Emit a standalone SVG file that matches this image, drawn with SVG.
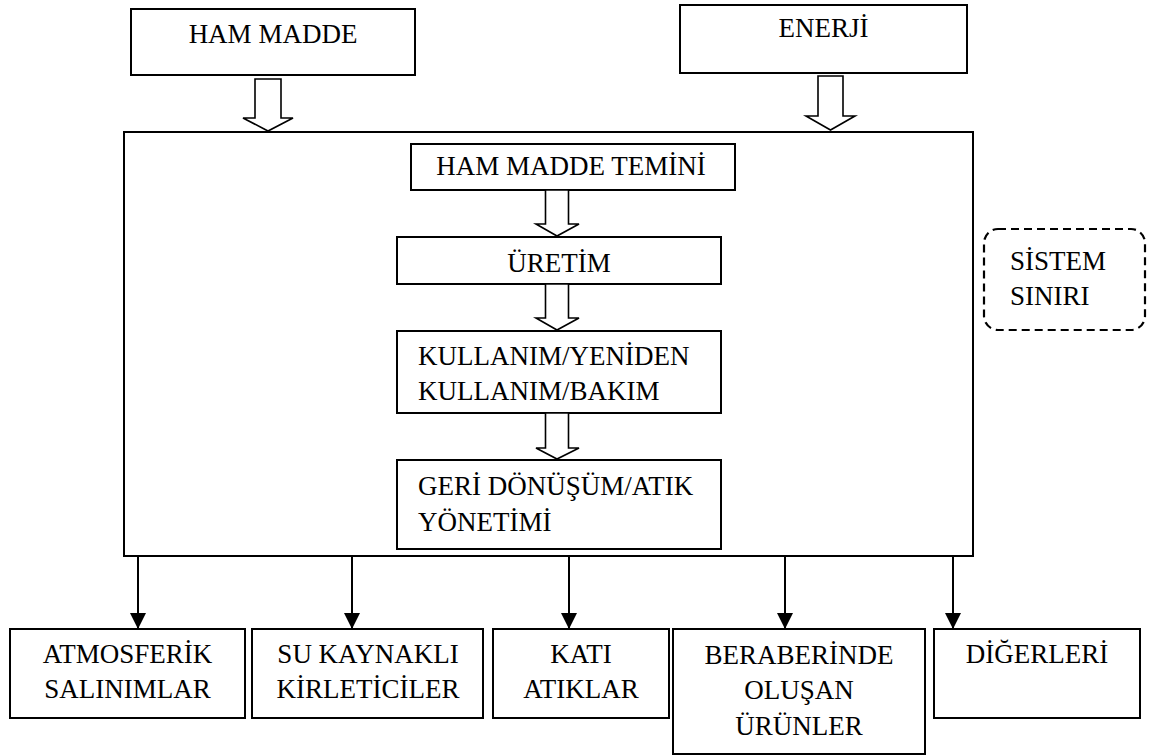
<svg xmlns="http://www.w3.org/2000/svg" width="1150" height="756" viewBox="0 0 1150 756">
<style>
.box{fill:#fff;stroke:#000;stroke-width:2}
.main{fill:#fff;stroke:#000;stroke-width:2}
.hollow{fill:#fff;stroke:#000;stroke-width:1.6;stroke-linejoin:miter}
.dash{fill:none;stroke:#000;stroke-width:2.2;stroke-dasharray:8 5}
text{font-family:"Liberation Serif","Times New Roman","DejaVu Serif",serif;font-size:27px;fill:#000}
.c{text-anchor:middle}
.ln{stroke:#000;stroke-width:2;fill:none}
</style>
<defs>
<marker id="ah" markerWidth="16" markerHeight="16" viewBox="0 0 16 16" refX="16" refY="8" orient="auto" markerUnits="userSpaceOnUse">
<path d="M0,0 L16,8 L0,16 Z" fill="#000"/>
</marker>
</defs>
<rect width="1150" height="756" fill="#fff"/>

<g id="main-system">
<rect class="main" x="124" y="132" width="849" height="424"/>
</g>

<g id="ham-madde">
<rect class="box" x="131" y="9" width="284" height="66"/>
<text class="c" x="273" y="43" font-family="Liberation Serif, serif">HAM MADDE</text>
</g>

<g id="enerji">
<rect class="box" x="680" y="5" width="287" height="68"/>
<text class="c" x="823.5" y="37" font-family="Liberation Serif, serif">ENERJİ</text>
</g>

<g id="ham-madde-temini">
<rect class="box" x="411" y="144" width="324" height="46"/>
<text class="c" x="571" y="175" font-family="Liberation Serif, serif">HAM MADDE TEMİNİ</text>
</g>

<g id="uretim">
<rect class="box" x="397" y="237" width="324" height="47"/>
<text class="c" x="559" y="272" font-family="Liberation Serif, serif">ÜRETİM</text>
</g>

<g id="kullanim">
<rect class="box" x="397" y="331" width="324" height="82"/>
<text x="418" y="365" font-family="Liberation Serif, serif">KULLANIM/YENİDEN</text>
<text x="418" y="400" font-family="Liberation Serif, serif">KULLANIM/BAKIM</text>
</g>

<g id="geri-donusum">
<rect class="box" x="397" y="460" width="324" height="89"/>
<text x="418" y="495" font-family="Liberation Serif, serif">GERİ DÖNÜŞÜM/ATIK</text>
<text x="418" y="531" font-family="Liberation Serif, serif">YÖNETİMİ</text>
</g>

<g id="sistem-siniri">
<rect class="dash" x="984" y="229" width="161" height="101" rx="14" ry="14"/>
<text x="1010" y="270" font-family="Liberation Serif, serif">SİSTEM</text>
<text x="1010" y="305" font-family="Liberation Serif, serif">SINIRI</text>
</g>

<g id="atmosferik">
<rect class="box" x="10" y="629" width="235" height="89"/>
<text class="c" x="127.5" y="663" font-family="Liberation Serif, serif">ATMOSFERİK</text>
<text class="c" x="127.5" y="698" font-family="Liberation Serif, serif">SALINIMLAR</text>
</g>

<g id="su-kaynakli">
<rect class="box" x="252" y="629" width="231" height="89"/>
<text class="c" x="368" y="663" font-family="Liberation Serif, serif">SU KAYNAKLI</text>
<text class="c" x="368" y="698" font-family="Liberation Serif, serif">KİRLETİCİLER</text>
</g>

<g id="kati-atiklar">
<rect class="box" x="493" y="629" width="176" height="89"/>
<text class="c" x="581" y="663" font-family="Liberation Serif, serif">KATI</text>
<text class="c" x="581" y="698" font-family="Liberation Serif, serif">ATIKLAR</text>
</g>

<g id="beraberinde">
<rect class="box" x="673" y="629" width="252" height="125"/>
<text class="c" x="799" y="664" font-family="Liberation Serif, serif">BERABERİNDE</text>
<text class="c" x="799" y="699" font-family="Liberation Serif, serif">OLUŞAN</text>
<text class="c" x="799" y="735" font-family="Liberation Serif, serif">ÜRÜNLER</text>
</g>

<g id="digerleri">
<rect class="box" x="934" y="629" width="206" height="89"/>
<text class="c" x="1037" y="663" font-family="Liberation Serif, serif">DİĞERLERİ</text>
</g>

<g id="connectors">
<path class="hollow" d="M255,79 H281 V118 H293 L268,131 L243,118 H255 Z"/>
<path class="hollow" d="M818,76 H843 V116 H855 L830.5,130 L806,116 H818 Z"/>
<path class="hollow" d="M545.5,190 H568.5 V224 H579 L557,236 L536,224 H545.5 Z"/>
<path class="hollow" d="M545.5,284 H568.5 V318 H579 L557,330 L536,318 H545.5 Z"/>
<path class="hollow" d="M545.5,413 H568.5 V448 H579 L557,459 L536,448 H545.5 Z"/>
<line class="ln" x1="138" y1="556" x2="138" y2="629" marker-end="url(#ah)"/>
<line class="ln" x1="352" y1="556" x2="352" y2="629" marker-end="url(#ah)"/>
<line class="ln" x1="569" y1="556" x2="569" y2="629" marker-end="url(#ah)"/>
<line class="ln" x1="785" y1="556" x2="785" y2="629" marker-end="url(#ah)"/>
<line class="ln" x1="953" y1="556" x2="953" y2="629" marker-end="url(#ah)"/>
</g>
</svg>
